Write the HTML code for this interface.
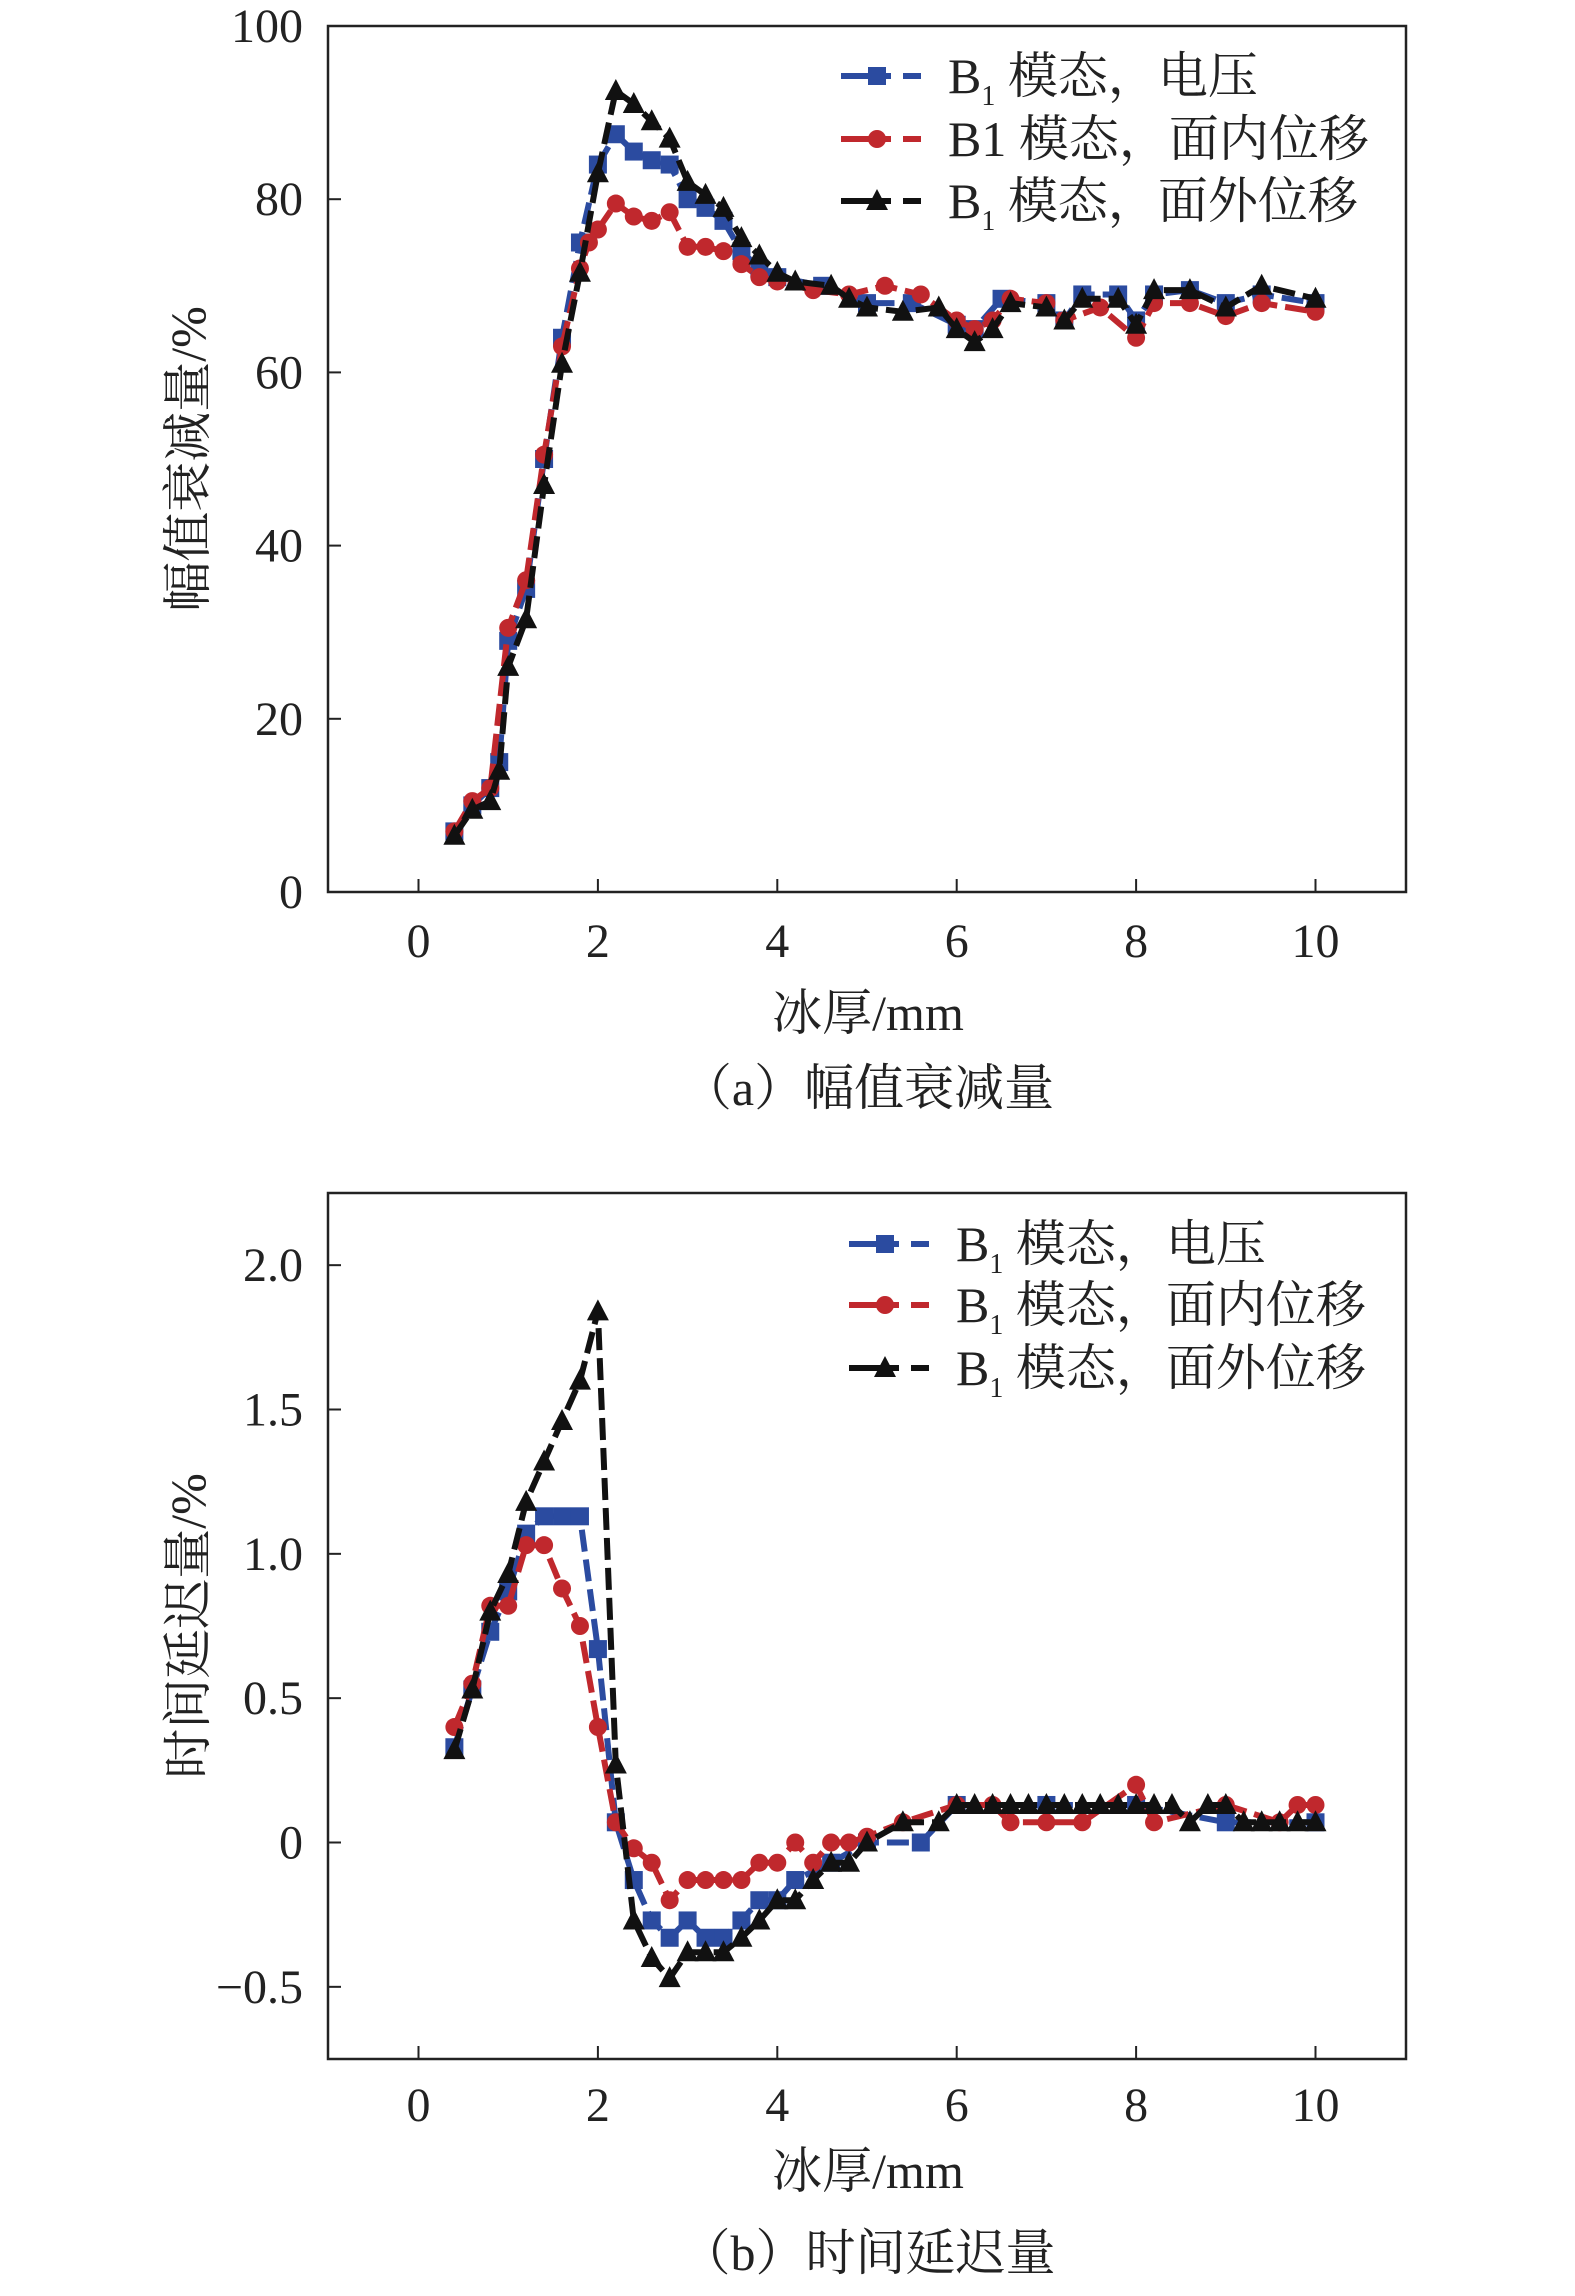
<!DOCTYPE html>
<html><head><meta charset="utf-8"><style>
html,body{margin:0;padding:0;background:#fff;}
svg{display:block;}
text{font-family:"Liberation Serif","Noto Serif CJK SC",serif;fill:#222;}
</style></head><body>
<svg id="s" width="1575" height="2296" viewBox="0 0 1575 2296" xmlns="http://www.w3.org/2000/svg"></svg>
<script>
const S=document.getElementById('s');let h='';
const X0=418.5,XU=89.7;
function px(x){return X0+x*XU;}
function plot(top,bot,ymin,ymax,yticks,ylab,series,legY,legX,caption,capY,xlY,xtY){
  const py=y=>bot-(y-ymin)/(ymax-ymin)*(bot-top);
  h+=`<rect x="328" y="${top}" width="1078" height="${bot-top}" fill="none" stroke="#222" stroke-width="2.5"/>`;
  yticks.forEach(t=>{const y=py(t[0]);h+=`<line x1="328" y1="${y}" x2="341" y2="${y}" stroke="#222" stroke-width="2"/><text x="303" y="${y+16}" font-size="48" text-anchor="end">${t[1]}</text>`;});
  [0,2,4,6,8,10].forEach(v=>{const x=px(v);h+=`<line x1="${x}" y1="${bot}" x2="${x}" y2="${bot-13}" stroke="#222" stroke-width="2"/><text x="${x}" y="${xtY}" font-size="48" text-anchor="middle">${v}</text>`;});
  h+=`<text x="868" y="${xlY}" font-size="50" text-anchor="middle">冰厚/mm</text>`;
  h+=`<text x="868" y="${capY}" font-size="50" text-anchor="middle">${caption}</text>`;
  const yc=(top+bot)/2;
  h+=`<text transform="translate(205,${yc}) rotate(-90)" font-size="50" text-anchor="middle">${ylab}</text>`;
  series.forEach((s,i)=>{
    let d=s.pts.map((p,j)=>(j?'L':'M')+px(p[0]).toFixed(1)+','+py(p[1]).toFixed(1)).join('');
    h+=`<path d="${d}" fill="none" stroke="${s.c}" stroke-width="6" stroke-dasharray="22,8"/>`;
    s.pts.forEach(p=>h+=mk(s.m,px(p[0]),py(p[1]),s.c));
    const ly=legY[i];
    h+=`<line x1="${legX}" y1="${ly}" x2="${legX+50}" y2="${ly}" stroke="${s.c}" stroke-width="6"/><line x1="${legX+62}" y1="${ly}" x2="${legX+80}" y2="${ly}" stroke="${s.c}" stroke-width="6"/>`+mk(s.m,legX+36,ly,s.c);
    h+=`<text x="${legX+107}" y="${ly+17}" font-size="50">${s.l}</text>`;
  });
}
function mk(m,x,y,c){
  if(m=='s')return `<rect x="${x-9}" y="${y-9}" width="18" height="18" fill="${c}"/>`;
  if(m=='o')return `<circle cx="${x}" cy="${y}" r="9" fill="${c}"/>`;
  return `<polygon points="${x},${y-12} ${x-11},${y+9} ${x+11},${y+9}" fill="${c}"/>`;
}
const B='#2b4ba0',R='#c0282d',K='#111';
const sub='B<tspan font-size="28" dy="12">1</tspan><tspan dy="-12"> 模态，</tspan>';
plot(26,892,0,100,[[0,'0'],[20,'20'],[40,'40'],[60,'60'],[80,'80'],[100,'100']],'幅值衰减量/%',[
 {c:B,m:'s',l:sub+'电压',pts:[[0.4,7],[0.6,10],[0.8,12],[0.9,15],[1.0,29],[1.2,35],[1.4,50],[1.6,64],[1.8,75],[2.0,84],[2.2,87.5],[2.4,85.5],[2.6,84.5],[2.8,84],[3.0,80],[3.2,79],[3.4,77.5],[3.6,74],[3.8,72],[4,71],[4.5,70],[5,68],[5.5,68],[6,65.5],[6.2,65],[6.5,68.5],[7,68],[7.2,66],[7.4,69],[7.8,69],[8,66],[8.2,69],[8.6,69.5],[9,68],[9.4,69],[10,68]]},
 {c:R,m:'o',l:'B1 模态，面内位移',pts:[[0.4,7],[0.6,10.5],[0.8,12],[1.0,30.5],[1.2,36],[1.4,50.5],[1.6,63],[1.8,72],[1.9,75],[2.0,76.5],[2.2,79.5],[2.4,78],[2.6,77.5],[2.8,78.5],[3.0,74.5],[3.2,74.5],[3.4,74],[3.6,72.5],[3.8,71],[4,70.5],[4.4,69.5],[4.8,69],[5.2,70],[5.6,69],[6,66],[6.2,65],[6.4,66],[6.6,68.5],[7,68],[7.2,66],[7.6,67.5],[8,64],[8.2,68],[8.6,68],[9,66.5],[9.4,68],[10,67]]},
 {c:K,m:'t',l:sub+'面外位移',pts:[[0.4,6.5],[0.6,9.5],[0.8,10.5],[0.9,14],[1.0,26],[1.2,31.5],[1.4,47],[1.6,61],[1.8,71.5],[2.0,83],[2.2,92.5],[2.4,91],[2.6,89],[2.8,87],[3.0,82],[3.2,80.5],[3.4,79],[3.6,75.5],[3.8,73.5],[4,71.5],[4.2,70.5],[4.6,70],[4.8,68.5],[5,67.5],[5.4,67],[5.8,67.5],[6,65],[6.2,63.5],[6.4,65],[6.6,68],[7,67.5],[7.2,66],[7.4,68.5],[7.8,68.5],[8,65.5],[8.2,69.5],[8.6,69.5],[9,67.5],[9.4,70],[10,68.5]]}
],[76,139,201],841,'（a）幅值衰减量',1105,1030,957);
const k=[[0.4,0.32],[0.6,0.53],[0.8,0.8],[1.0,0.93],[1.2,1.18],[1.4,1.32],[1.6,1.46],[1.8,1.6],[2.0,1.84],[2.2,0.27],[2.4,-0.27],[2.6,-0.4],[2.8,-0.47],[3.0,-0.38],[3.2,-0.38],[3.4,-0.38],[3.6,-0.33],[3.8,-0.27],[4,-0.2],[4.2,-0.2],[4.4,-0.13],[4.6,-0.07],[4.8,-0.07],[5,0],[5.4,0.07],[5.8,0.07]];
for(let x=6;x<=8.41;x+=0.2)k.push([+x.toFixed(1),0.13]);
k.push([8.6,0.07],[8.8,0.13],[9,0.13],[9.2,0.07],[9.4,0.07],[9.6,0.07],[9.8,0.07],[10,0.07]);
const b=[[0.4,0.33],[0.6,0.53],[0.8,0.73],[1.0,0.87],[1.2,1.07],[1.4,1.13],[1.6,1.13],[1.8,1.13],[2.0,0.67],[2.2,0.07],[2.4,-0.13],[2.6,-0.27],[2.8,-0.33],[3.0,-0.27],[3.2,-0.33],[3.4,-0.33],[3.6,-0.27],[3.8,-0.2],[4,-0.2],[4.2,-0.13],[4.6,-0.07],[5,0],[5.6,0],[6,0.13],[7,0.13],[8,0.13],[9,0.07],[10,0.07]];
const r=[[0.4,0.4],[0.6,0.55],[0.8,0.82],[1.0,0.82],[1.2,1.03],[1.4,1.03],[1.6,0.88],[1.8,0.75],[2.0,0.4],[2.2,0.07],[2.4,-0.02],[2.6,-0.07],[2.8,-0.2],[3.0,-0.13],[3.2,-0.13],[3.4,-0.13],[3.6,-0.13],[3.8,-0.07],[4,-0.07],[4.2,0],[4.4,-0.07],[4.6,0],[4.8,0],[5,0.02],[5.4,0.07],[6,0.13],[6.4,0.13],[6.6,0.07],[7,0.07],[7.4,0.07],[8,0.2],[8.2,0.07],[9,0.13],[9.6,0.07],[9.8,0.13],[10,0.13]];
plot(1193,2059,-0.75,2.25,[[-0.5,'−0.5'],[0,'0'],[0.5,'0.5'],[1,'1.0'],[1.5,'1.5'],[2,'2.0']],'时间延迟量/%',[
 {c:B,m:'s',l:sub+'电压',pts:b},
 {c:R,m:'o',l:sub+'面内位移',pts:r},
 {c:K,m:'t',l:sub+'面外位移',pts:k}
],[1244,1305,1368],849,'（b）时间延迟量',2270,2188,2121);
S.innerHTML=h;
</script>
</body></html>
